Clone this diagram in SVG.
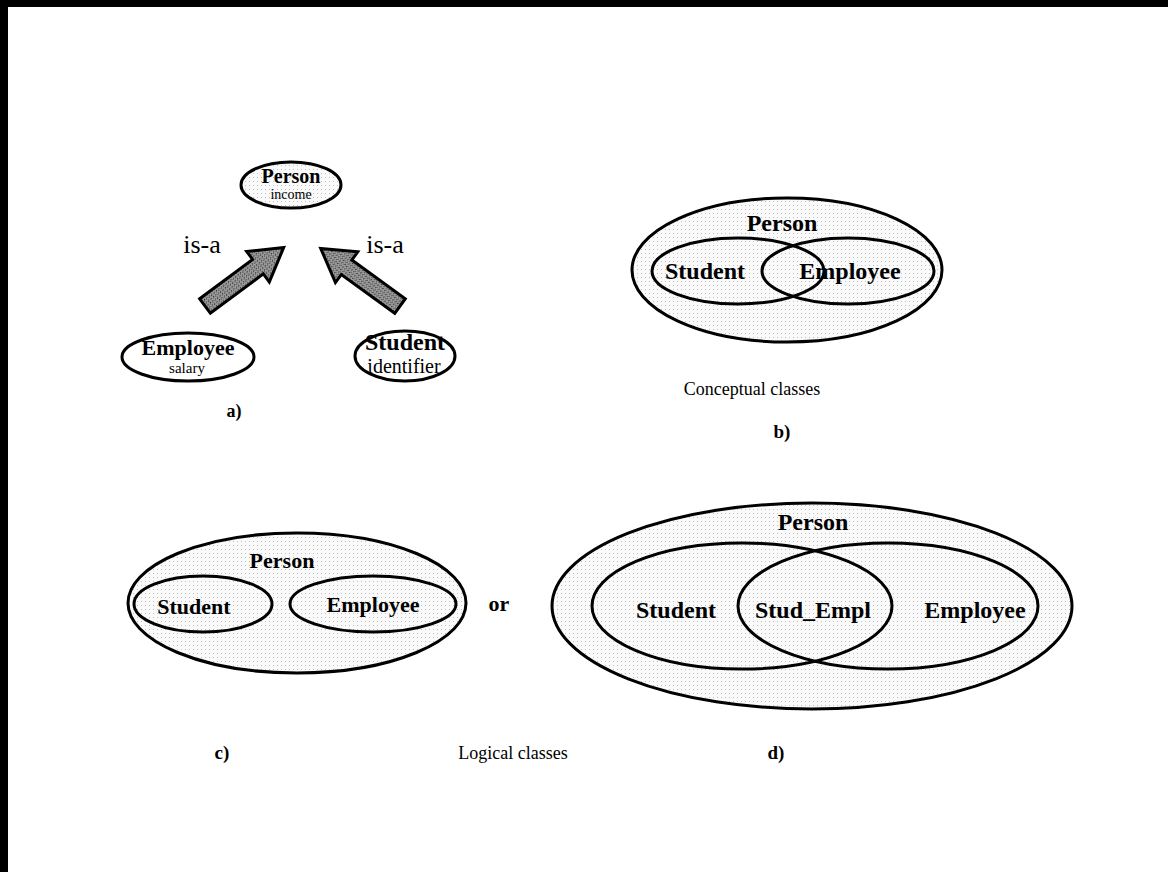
<svg xmlns="http://www.w3.org/2000/svg" width="1168" height="872" viewBox="0 0 1168 872">
<style>
.el{stroke:#000;stroke-width:3;fill:none}
.sh{stroke:#000;stroke-width:3;fill:url(#dots)}
.b{font-family:"Liberation Serif","Times New Roman",serif;font-weight:bold;text-anchor:middle;fill:#000}
.r{font-family:"Liberation Serif","Times New Roman",serif;text-anchor:middle;fill:#000}
.arr{fill:url(#hatch);stroke:#000;stroke-width:3;stroke-linejoin:miter}
</style>
<defs>
<pattern id="dots" width="4" height="4" patternUnits="userSpaceOnUse">
<rect width="4" height="4" fill="#fafafa"/>
<rect x="1" y="1" width="1" height="1" fill="#c0c0c0"/>
</pattern>
<pattern id="hatch" width="3" height="3" patternUnits="userSpaceOnUse">
<rect width="3" height="3" fill="#9a9a9a"/>
<rect x="0" y="0" width="1" height="1" fill="#333"/>
<rect x="2" y="1" width="1" height="1" fill="#444"/>
</pattern>
<polygon id="arrow" points="0,-9 66,-9 66,-19 98,0 66,19 66,9 0,9"/>
</defs>
<rect width="1168" height="872" fill="#fff"/>
<rect x="0" y="0" width="8" height="872" fill="#000"/>
<rect x="0" y="0" width="1168" height="7" fill="#000"/>

<g id="connectors">
<use href="#arrow" class="arr" transform="translate(205,306) rotate(-36.6)"/>
<use href="#arrow" class="arr" transform="translate(400,306) rotate(-144)"/>
<text class="r" x="202" y="253" font-size="26">is-a</text>
<text class="r" x="385" y="253" font-size="26">is-a</text>
</g>

<g id="a-person">
<ellipse class="sh" cx="291" cy="185" rx="50" ry="23"/>
<text class="b" x="291" y="183" font-size="20">Person</text>
<text class="r" x="291" y="199" font-size="14">income</text>
</g>
<g id="a-employee">
<ellipse class="el" cx="188" cy="357" rx="66" ry="24" fill="#fff"/>
<text class="b" x="188" y="355" font-size="22">Employee</text>
<text class="r" x="187" y="373" font-size="15">salary</text>
</g>
<g id="a-student">
<ellipse class="el" cx="405" cy="356" rx="50" ry="25"/>
<text class="b" x="405" y="350" font-size="24">Student</text>
<text class="r" x="404" y="373" font-size="20">identifier</text>
</g>
<text class="b" x="234" y="417" font-size="18">a)</text>

<g id="b-person">
<ellipse class="sh" cx="787" cy="270" rx="155" ry="72"/>
<text class="b" x="782" y="231" font-size="24">Person</text>
</g>
<g id="b-student">
<ellipse class="el" cx="738" cy="271" rx="86" ry="33"/>
<text class="b" x="705" y="279" font-size="24">Student</text>
</g>
<g id="b-employee">
<ellipse class="el" cx="848" cy="271" rx="86" ry="33"/>
<text class="b" x="850" y="279" font-size="24">Employee</text>
</g>
<text class="r" x="752" y="395" font-size="18">Conceptual classes</text>
<text class="b" x="782" y="438" font-size="19">b)</text>

<g id="c-person">
<ellipse class="sh" cx="297" cy="603" rx="169" ry="70"/>
<text class="b" x="282" y="568" font-size="22">Person</text>
</g>
<g id="c-student">
<ellipse class="el" cx="203" cy="604" rx="69" ry="28"/>
<text class="b" x="194" y="614" font-size="22">Student</text>
</g>
<g id="c-employee">
<ellipse class="el" cx="373" cy="604" rx="83" ry="28"/>
<text class="b" x="373" y="612" font-size="22">Employee</text>
</g>
<text class="b" x="499" y="611" font-size="22">or</text>
<text class="b" x="222" y="759" font-size="19">c)</text>

<g id="d-person">
<ellipse class="sh" cx="812" cy="606" rx="260" ry="103"/>
<text class="b" x="813" y="530" font-size="24">Person</text>
</g>
<g id="d-student">
<ellipse class="el" cx="742" cy="606" rx="150" ry="63"/>
<text class="b" x="676" y="618" font-size="24">Student</text>
</g>
<g id="d-employee">
<ellipse class="el" cx="888" cy="606" rx="150" ry="63"/>
<text class="b" x="975" y="618" font-size="24">Employee</text>
</g>
<g id="d-stud-empl">
<text class="b" x="813" y="618" font-size="24">Stud_Empl</text>
</g>
<text class="r" x="513" y="759" font-size="18">Logical classes</text>
<text class="b" x="776" y="759" font-size="19">d)</text>
</svg>
